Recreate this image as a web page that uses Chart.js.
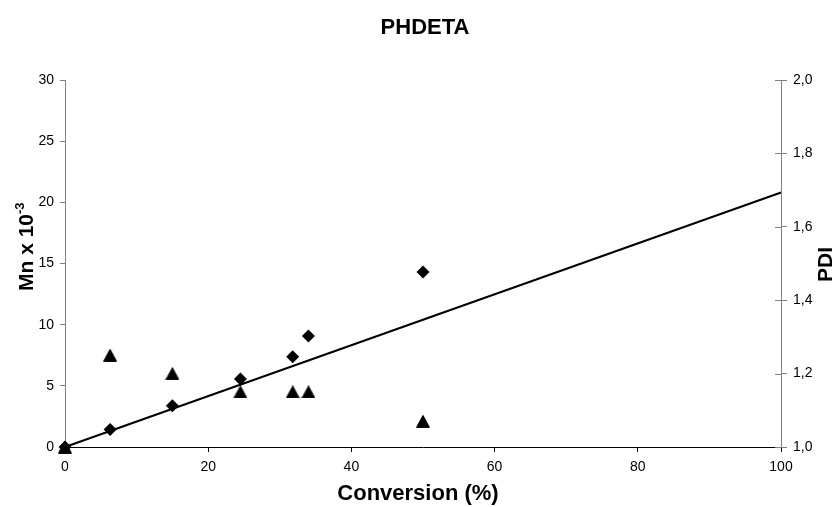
<!DOCTYPE html>
<html>
<head>
<meta charset="utf-8">
<script src="https://cdn.jsdelivr.net/npm/chart.js@4/dist/chart.umd.min.js"></script>
<style>
  html, body { margin: 0; padding: 0; background: #fff; }
  #wrap { width: 835px; height: 507px; }
</style>
</head>
<body>
<div id="wrap"><canvas id="c" width="835" height="507"></canvas></div>
<script>
// Conversion (%) at each sample
const conversion = [0, 6.3, 15.0, 24.5, 31.8, 34.0, 50.0];
// Number-average molar mass (x 10^-3)
const mn = [0, 1.43, 3.38, 5.55, 7.38, 9.07, 14.3];
// Polydispersity index
const pdi = [1.0, 1.25, 1.20, 1.15, 1.15, 1.15, 1.07];
// Linear fit of Mn against conversion (end points)
const fitX = [0, 100];
const fitY = [0, 20.8];
// Axis ranges and tick steps
const xRange = [0, 100, 20];
const mnRange = [0, 30, 5];
const pdiRange = [1.0, 2.0, 0.2];

const FONT = '"Liberation Sans", Arial, sans-serif';

// Filled triangle marker, centred on its bounding box
function triangleMarker(w, h) {
  const cv = document.createElement('canvas');
  cv.width = w; cv.height = h;
  const g = cv.getContext('2d');
  g.fillStyle = '#000';
  g.strokeStyle = '#000';
  g.lineWidth = 1;
  g.lineJoin = 'miter';
  g.beginPath();
  g.moveTo(0.6, h - 0.6);
  g.lineTo(w / 2, 0.6);
  g.lineTo(w - 0.6, h - 0.6);
  g.closePath();
  g.fill();
  g.stroke();
  return cv;
}

const toPoints = (xs, ys) => xs.map((x, i) => ({ x: x, y: ys[i] }));

// Titles and the inner half of the right-axis ticks
const decorations = {
  id: 'decorations',
  afterDraw(chart) {
    const ctx = chart.ctx;
    const area = chart.chartArea;
    ctx.save();
    ctx.fillStyle = '#000';

    // chart title
    ctx.font = 'bold 22px ' + FONT;
    ctx.textAlign = 'center';
    ctx.textBaseline = 'alphabetic';
    ctx.fillText('PHDETA', 425, 34);

    // x axis title
    ctx.fillText('Conversion (%)', 418, 500);

    // left axis title with superscript
    ctx.save();
    ctx.translate(33, 291);
    ctx.rotate(-Math.PI / 2);
    ctx.textAlign = 'left';
    ctx.font = 'bold 21px ' + FONT;
    ctx.fillText('Mn x 10', 0, 0);
    const w = ctx.measureText('Mn x 10').width;
    ctx.font = 'bold 13px ' + FONT;
    ctx.fillText('-3', w, -9);
    ctx.restore();

    // right axis title
    ctx.save();
    ctx.translate(832, 282);
    ctx.rotate(-Math.PI / 2);
    ctx.textAlign = 'left';
    ctx.font = 'bold 21px ' + FONT;
    ctx.fillText('PDI', 0, 0);
    ctx.restore();

    // right axis ticks cross the axis line
    const y2 = chart.scales.y2;
    ctx.strokeStyle = '#808080';
    ctx.lineWidth = 1;
    y2.ticks.forEach(t => {
      const py = Math.round(y2.getPixelForValue(t.value)) + 0.5;
      ctx.beginPath();
      ctx.moveTo(area.right - 6, py);
      ctx.lineTo(area.right, py);
      ctx.stroke();
    });
    ctx.restore();
  }
};

new Chart(document.getElementById('c'), {
  type: 'scatter',
  data: {
    datasets: [
      {
        label: 'Mn',
        data: toPoints(conversion, mn),
        yAxisID: 'y',
        pointStyle: 'rectRot',
        pointRadius: 6.5,
        pointHoverRadius: 6.5,
        backgroundColor: '#000',
        borderColor: '#000',
        borderWidth: 0,
        showLine: false,
        clip: false,
        order: 1
      },
      {
        label: 'PDI',
        data: toPoints(conversion, pdi),
        yAxisID: 'y2',
        pointStyle: triangleMarker(14, 13),
        pointRadius: 7,
        backgroundColor: '#000',
        borderColor: '#000',
        showLine: false,
        clip: false,
        order: 2
      },
      {
        label: 'Linear (Mn)',
        type: 'line',
        data: toPoints(fitX, fitY),
        yAxisID: 'y',
        borderColor: '#000',
        borderWidth: 2,
        pointRadius: 0,
        fill: false,
        tension: 0,
        clip: false,
        order: 3
      }
    ]
  },
  options: {
    responsive: false,
    animation: false,
    events: [],
    layout: { padding: { top: 80, left: 0, right: 0, bottom: 0 } },
    plugins: {
      legend: { display: false },
      title: { display: false },
      tooltip: { enabled: false }
    },
    scales: {
      x: {
        type: 'linear',
        position: 'bottom',
        min: xRange[0],
        max: xRange[1],
        afterFit: s => { s.height = 60; },
        ticks: {
          stepSize: xRange[2],
          color: '#000',
          font: { family: FONT, size: 14 },
          padding: 7,
          maxRotation: 0
        },
        grid: { display: true, drawOnChartArea: false, drawTicks: true, tickLength: 5, color: '#000' },
        border: { display: true, color: '#000', width: 1 }
      },
      y: {
        type: 'linear',
        position: 'left',
        min: mnRange[0],
        max: mnRange[1],
        afterFit: s => { s.width = 65; },
        ticks: {
          stepSize: mnRange[2],
          color: '#000',
          font: { family: FONT, size: 14 },
          padding: 6
        },
        grid: { display: true, drawOnChartArea: false, drawTicks: true, tickLength: 5, color: '#808080' },
        border: { display: true, color: '#808080', width: 1 }
      },
      y2: {
        type: 'linear',
        position: 'right',
        min: pdiRange[0],
        max: pdiRange[1],
        afterFit: s => { s.width = 54; },
        ticks: {
          stepSize: pdiRange[2],
          color: '#000',
          font: { family: FONT, size: 14 },
          padding: 6,
          callback: v => Number(v).toFixed(1).replace('.', ',')
        },
        grid: { display: true, drawOnChartArea: false, drawTicks: true, tickLength: 6, color: '#808080' },
        border: { display: true, color: '#808080', width: 1 }
      }
    }
  },
  plugins: [decorations]
});
</script>
</body>
</html>
